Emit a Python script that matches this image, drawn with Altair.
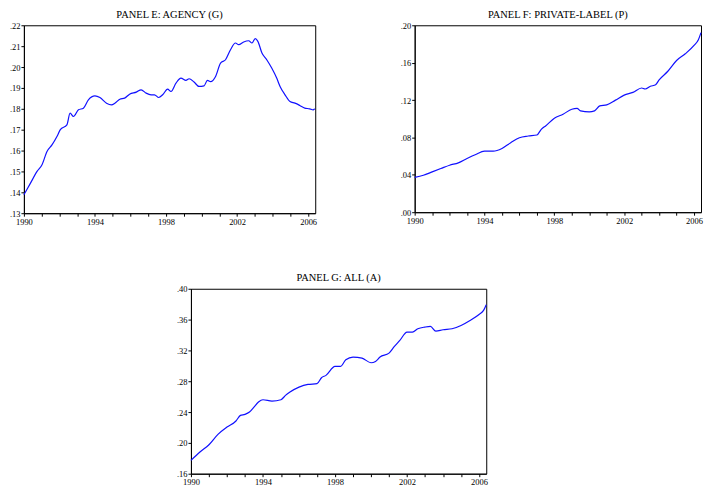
import altair as alt
import pandas as pd

# ---- Panel E: Agency (G)
years_e = [1990.00, 1990.37, 1990.74, 1991.02, 1991.30, 1991.58, 1991.86, 1992.05, 1992.42, 1992.60,
           1992.79, 1993.07, 1993.35, 1993.63, 1994.00, 1994.28, 1994.65, 1994.93, 1995.12, 1995.40,
           1995.67, 1995.95, 1996.33, 1996.60, 1996.88, 1997.16, 1997.35, 1997.59, 1997.81, 1998.09,
           1998.28, 1998.56, 1998.84, 1999.12, 1999.30, 1999.58, 1999.86, 2000.14, 2000.33, 2000.51,
           2000.79, 2001.07, 2001.35, 2001.63, 2001.91, 2002.09, 2002.37, 2002.65, 2002.84, 2003.02,
           2003.17, 2003.40, 2003.67, 2003.95, 2004.23, 2004.42, 2004.70, 2004.98, 2005.26, 2005.53,
           2005.81, 2006.09, 2006.28, 2006.37]
agency = [0.1388, 0.1444, 0.1500, 0.1532, 0.1596, 0.1627, 0.1667, 0.1700, 0.1723, 0.1779,
          0.1763, 0.1795, 0.1803, 0.1843, 0.1862, 0.1854, 0.1827, 0.1819, 0.1827, 0.1846,
          0.1851, 0.1870, 0.1880, 0.1891, 0.1875, 0.1867, 0.1867, 0.1854, 0.1867, 0.1894,
          0.1883, 0.1923, 0.1947, 0.1936, 0.1944, 0.1928, 0.1907, 0.1910, 0.1936, 0.1930,
          0.1955, 0.2019, 0.2035, 0.2083, 0.2115, 0.2107, 0.2120, 0.2126, 0.2115, 0.2136,
          0.2123, 0.2067, 0.2035, 0.1995, 0.1947, 0.1907, 0.1867, 0.1835, 0.1827, 0.1816,
          0.1803, 0.1800, 0.1795, 0.1800]

# ---- Panel F: Private-label (P)
years_f = [1990.0, 1990.5, 1991.0, 1991.5, 1992.0, 1992.5, 1993.0, 1993.5, 1994.0, 1994.5,
           1995.0, 1995.5, 1996.0, 1996.5, 1997.0, 1997.25, 1997.5, 1998.0, 1998.5, 1999.0,
           1999.3, 1999.5, 2000.0, 2000.3, 2000.6, 2001.0, 2001.5, 2002.0, 2002.5, 2003.0,
           2003.2, 2003.5, 2003.8, 2004.0, 2004.5, 2005.0, 2005.5, 2006.0, 2006.25, 2006.4]
private = [0.0373, 0.0395, 0.0431, 0.0467, 0.0503, 0.0528, 0.0575, 0.0618, 0.0653, 0.0653,
           0.0682, 0.0743, 0.0797, 0.0815, 0.0826, 0.0887, 0.0923, 0.1005, 0.1048, 0.1102,
           0.1110, 0.1084, 0.1074, 0.1084, 0.1138, 0.1149, 0.1199, 0.1253, 0.1282, 0.1329,
           0.1318, 0.1347, 0.1364, 0.1415, 0.1508, 0.1623, 0.1695, 0.1785, 0.1846, 0.1921]

# ---- Panel G: All (A)
years_g = [1990.0, 1990.5, 1991.0, 1991.5, 1992.0, 1992.5, 1992.75, 1993.0, 1993.25, 1993.5,
           1993.75, 1994.0, 1994.5, 1995.0, 1995.25, 1995.5, 1996.0, 1996.5, 1997.0, 1997.25,
           1997.5, 1998.0, 1998.3, 1998.6, 1999.0, 1999.5, 2000.0, 2000.25, 2000.5, 2001.0,
           2001.3, 2001.6, 2002.0, 2002.3, 2002.6, 2003.0, 2003.3, 2003.6, 2004.0, 2004.5,
           2005.0, 2005.5, 2006.0, 2006.25, 2006.4]
all_series = [0.1773, 0.1881, 0.1976, 0.2111, 0.2205, 0.2284, 0.2357, 0.2370, 0.2400, 0.2465,
              0.2530, 0.2560, 0.2543, 0.2560, 0.2616, 0.2660, 0.2724, 0.2759, 0.2768, 0.2846,
              0.2876, 0.2992, 0.2992, 0.3079, 0.3114, 0.3100, 0.3040, 0.3057, 0.3114, 0.3165,
              0.3252, 0.3330, 0.3438, 0.3438, 0.3481, 0.3503, 0.3511, 0.3450, 0.3468, 0.3481,
              0.3524, 0.3589, 0.3667, 0.3719, 0.3793]

titles = ["PANEL E: AGENCY (G)", "PANEL F: PRIVATE-LABEL (P)", "PANEL G: ALL (A)"]
year_ticks = list(range(1990, 2007))
yticks_e = [0.13, 0.14, 0.15, 0.16, 0.17, 0.18, 0.19, 0.20, 0.21, 0.22]
yticks_f = [0.00, 0.04, 0.08, 0.12, 0.16, 0.20]
yticks_g = [0.16, 0.20, 0.24, 0.28, 0.32, 0.36, 0.40]

FONT = "Liberation Serif"
XDOM = [1990, 2006.4]


def panel(years, vals, title, yticks, w, h):
    df = pd.DataFrame({"year": years, "value": vals})
    return alt.Chart(df).mark_line(color="#1010ff", strokeWidth=1.2, interpolate="monotone").encode(
        x=alt.X("year:Q", scale=alt.Scale(domain=XDOM, nice=False, zero=False),
                axis=alt.Axis(title=None, values=year_ticks,
                              labelExpr="datum.value % 4 == 2 ? format(datum.value, 'd') : ''",
                              grid=False, tickSize=3, labelPadding=1, labelFlush=False,
                              labelOverlap=False)),
        y=alt.Y("value:Q", scale=alt.Scale(domain=[yticks[0], yticks[-1]], nice=False, zero=False),
                axis=alt.Axis(title=None, values=yticks,
                              labelExpr="substring(format(datum.value, '.2f'), 1)",
                              grid=False, tickSize=3, labelPadding=1, minExtent=15,
                              maxExtent=15, labelFlush=False)),
    ).properties(width=w, height=h,
                 title=alt.TitleParams(title, font=FONT, fontSize=10.5, fontWeight="normal",
                                       color="black", offset=1))


pe = panel(years_e, agency, titles[0], yticks_e, 293, 189)
pf = panel(years_f, private, titles[1], yticks_f, 288, 188)
pg = panel(years_g, all_series, titles[2], yticks_g, 297, 186)

spacer = alt.Chart(pd.DataFrame({"s": [0]})).mark_rule(strokeOpacity=0).encode(
    x=alt.value(0), x2=alt.value(141), y=alt.value(5)
).properties(width=141, height=10, view=alt.ViewBackground(stroke="transparent"))

top = alt.hconcat(pe, pf, spacing=81)
bottom = alt.hconcat(spacer, pg, spacing=10)
chart = alt.vconcat(top, bottom, spacing=47).properties(padding=0).configure_view(
    stroke="black", strokeWidth=1
).configure_axis(
    labelFont=FONT, labelFontSize=8.5, labelColor="black", domainColor="black",
    tickColor="black", domainWidth=1
)

chart.save("out.html", embed_options={"renderer": "svg", "actions": False})
